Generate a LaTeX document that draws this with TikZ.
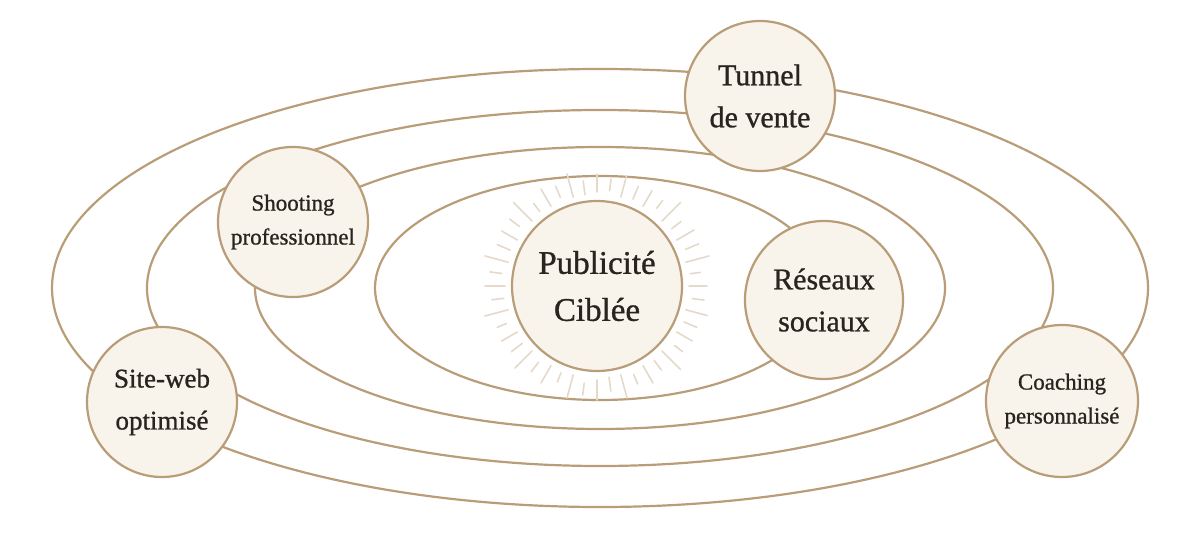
\documentclass[tikz,border=0pt]{standalone}
\usepackage{fontspec}
\setmainfont{Liberation Serif}[FakeBold=0.9]
\definecolor{ring}{HTML}{B99C78}
\definecolor{rayc}{HTML}{E4D9CA}
\definecolor{cream}{HTML}{F8F4EC}
\definecolor{ink}{HTML}{2A241E}
\begin{document}
\begin{tikzpicture}[x=0.5pt,y=-0.5pt,
  orbit/.style={draw=ring,line width=1.1pt},
  sunray/.style={draw=rayc,line width=0.8pt,line cap=round},
  planet/.style={circle,draw=ring,line width=1.1pt,fill=cream,text=ink,align=center,inner sep=0pt,minimum size=#1},
  big/.style={font=\fontsize{16.5}{23.5}\selectfont},
  mid/.style={font=\fontsize{13.5}{21}\selectfont},
  midb/.style={font=\fontsize{15}{21}\selectfont},
  small/.style={font=\fontsize{11.5}{17}\selectfont}]
\useasboundingbox (0,0) rectangle (1200,535);
% orbits
\coordinate (c) at (600,288);
\draw[orbit] (c) ellipse [x radius=112.5pt, y radius=56pt];
\draw[orbit] (c) ellipse [x radius=172.5pt, y radius=70.5pt];
\draw[orbit] (c) ellipse [x radius=226.5pt, y radius=89pt];
\draw[orbit] (c) ellipse [x radius=274pt, y radius=109.5pt];
% sun
\coordinate (sunc) at (597,286);
\foreach \a/\s/\l in {0/46/9,7.5/47/5,15/46/12,22.5/48/7,30/46/10,37.5/47/6,45/46/13,52.5/49/5,60/46/9,67.5/47/7,75/46/11,82.5/48/6,90/47/9,97.5/46/7,105/46/12,112.5/48/6,120/46/10,127.5/47/5,135/46/13,142.5/49/6,150/46/9,157.5/47/7,165/46/12,172.5/48/6,180/46/10,187.5/47/6,195/46/12,202.5/49/5,210/46/9,217.5/47/7,225/46/12,232.5/48/6,240/46/10,247.5/47/5,255/46/12,262.5/49/6,270/47/10,277.5/46/7,285/46/12,292.5/48/5,300/46/10,307.5/47/6,315/46/13,322.5/49/5,330/46/9,337.5/47/7,345/46/11,352.5/48/6}
  \draw[sunray] (sunc) ++(\a:\s pt) -- ++(\a:\l pt);
% planets
\node[planet=85pt,big] (pub) at (sunc) {Publicité\\Ciblée};
\node[planet=75pt,midb] (tunnel) at (760,96) {Tunnel\\de vente};
\node[planet=75pt,small] (shoot) at (293,222) {Shooting\\professionnel};
\node[planet=79pt,midb] (res) at (824,300) {Réseaux\\sociaux};
\node[planet=75pt,mid] (site) at (162,402) {Site-web\\optimisé};
\node[planet=76pt,small] (coach) at (1062,401) {Coaching\\personnalisé};
\end{tikzpicture}
\end{document}
